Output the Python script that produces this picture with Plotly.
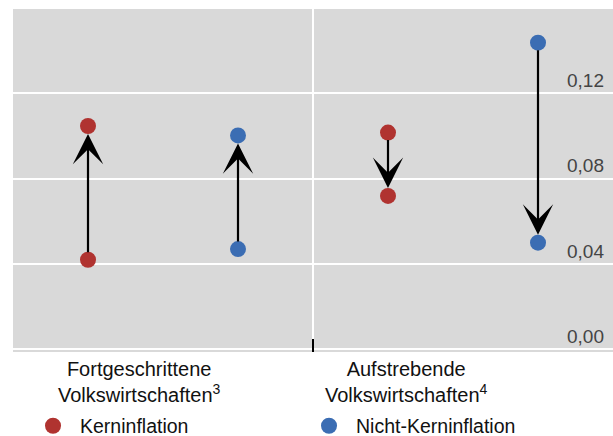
import plotly.graph_objects as go

# Data
groups = ["Fortgeschrittene<br>Volkswirtschaften<sup>3</sup>",
          "Aufstrebende<br>Volkswirtschaften<sup>4</sup>"]
series = ["Kerninflation", "Nicht-Kerninflation"]
x_pos = [0.5, 1.5, 2.5, 3.5]
series_of_pos = [0, 1, 0, 1]
start_vals = [0.042, 0.047, 0.1016, 0.1438]
end_vals = [0.1047, 0.1003, 0.0719, 0.0500]
group_label_x = [0.84, 2.625]
y_ticks = [0.00, 0.04, 0.08, 0.12]

colors = ["#B03330", "#3B6DB3"]

fig = go.Figure()
for s, name in enumerate(series):
    xs, ys = [], []
    for i, xp in enumerate(x_pos):
        if series_of_pos[i] == s:
            xs += [xp, xp]
            ys += [start_vals[i], end_vals[i]]
    fig.add_trace(go.Scatter(
        x=xs, y=ys, mode="markers", name=name,
        marker=dict(color=colors[s], size=16),
        hoverinfo="skip",
    ))

for i, xp in enumerate(x_pos):
    fig.add_annotation(
        x=xp, y=end_vals[i], ax=xp, ay=start_vals[i],
        xref="x", yref="y", axref="x", ayref="y",
        text="", showarrow=True, arrowhead=3, arrowsize=2.3,
        arrowwidth=2.2, arrowcolor="black", standoff=8, startstandoff=6,
    )

for gx, g in zip(group_label_x, groups):
    fig.add_annotation(
        x=gx, y=-0.0117, xref="x", yref="paper", yanchor="top",
        text=g, showarrow=False, font=dict(size=20, color="#111111"),
        align="center",
    )

fig.update_layout(
    width=613, height=436,
    margin=dict(l=13, r=0, t=9, b=84, autoexpand=False),
    paper_bgcolor="white", plot_bgcolor="#D9D9D9",
    font=dict(family="Liberation Sans, Arial, sans-serif", size=19, color="#111111"),
    separators=",.",
    showlegend=True,
    legend=dict(orientation="h", x=0.0217, xanchor="left", y=-0.216, yanchor="middle",
                entrywidth=217, itemwidth=44, font=dict(size=19.5),
                bgcolor="rgba(0,0,0,0)"),
    xaxis=dict(range=[0, 4], tickvals=[2], showticklabels=False, showgrid=True,
               gridcolor="white", gridwidth=1.5, zeroline=False, ticks="inside",
               ticklen=13, tickwidth=2, tickcolor="black", showline=False,
               fixedrange=True),
    yaxis=dict(range=[-0.00127, 0.15957], side="right", tickvals=y_ticks,
               tickformat=".2f", ticklabelposition="inside", ticks="",
               showgrid=True, gridcolor="white", gridwidth=2, zeroline=False,
               ticklabelshift=-13, ticklabelstandoff=6, showline=False,
               fixedrange=True),
)

fig.write_html("out.html", config={"displayModeBar": False},
               post_script="document.body.style.margin='0';")
